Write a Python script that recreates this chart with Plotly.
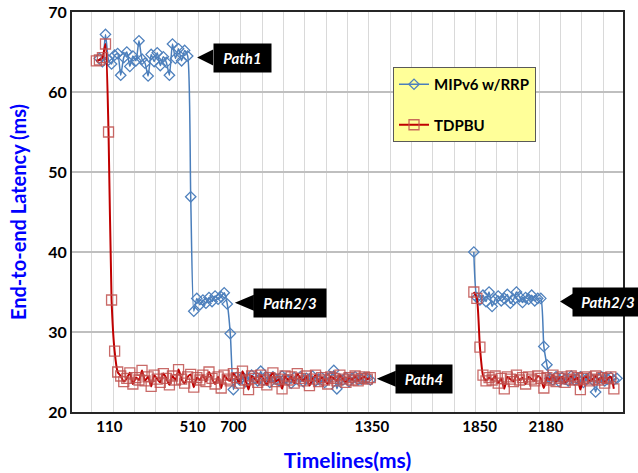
import plotly.graph_objects as go

# ---------------- data ----------------
# x positions are sample indices along the (category) time axis
x_tick_positions = [12.25, 39.6, 53.0, 98.5, 133.9, 155.7]
x_tick_labels = ["110", "510", "700", "1350", "1850", "2180"]

mipv6_seg1_start = 9
mipv6_seg1 = [
    64.2, 63.8, 67.2, 64.0, 63.5, 64.6, 64.8, 62.1, 64.3, 65.0,
    63.2, 64.5, 63.9, 66.4, 64.1, 63.6, 62.0, 64.7, 63.8, 64.9,
    63.3, 64.4, 63.7, 62.1, 66.0, 64.2, 65.4, 63.9, 65.2, 64.5,
    46.9,
    32.6, 34.2, 33.4, 34.0, 33.6, 34.3, 33.8, 34.5, 34.1, 34.4, 34.9, 33.5,
    29.8, 22.8,
    24.3, 24.0, 24.4, 23.8, 24.1, 24.6, 24.2, 23.9, 25.1, 24.0,
    24.3, 23.7, 24.4, 24.1, 23.9, 24.5, 24.2, 24.0, 23.6, 24.3,
    24.1, 24.4, 23.8, 24.2, 24.0, 24.5, 23.9, 24.1, 24.3, 23.7,
    24.2, 24.4, 25.2, 22.9, 24.1, 24.0, 24.3, 23.8, 24.2, 24.4,
    24.0, 24.1, 24.3, 24.2, 24.0,
]
mipv6_seg2_start = 132
mipv6_seg2 = [
    40.0,
    34.3, 34.0, 34.6, 33.8, 35.0, 33.2, 34.1, 34.5, 33.9, 34.2,
    34.7, 33.6, 34.0, 35.0, 34.4, 33.7, 34.3, 34.1, 34.6, 33.9,
    34.2, 34.2,
    28.2, 25.9,
    24.2, 24.0, 24.4, 23.8, 24.3, 24.1, 23.9, 24.5, 24.0, 24.2,
    24.4, 23.7, 24.1, 24.3, 24.0, 22.5, 24.2, 24.4, 23.9, 24.1,
    24.3, 24.0, 24.2,
]

tdpbu_seg1_start = 8
tdpbu_seg1 = [
    63.9, 64.0, 64.3, 66.0, 55.0, 34.0, 27.6, 25.0,
    24.5, 23.8, 24.2, 24.9, 23.5, 24.3, 24.0, 25.2, 23.9, 24.4,
    23.2, 24.6, 24.1, 23.7, 24.8, 24.2, 23.4, 24.5, 24.0, 25.3,
    24.1, 23.6, 24.4, 24.7, 23.1, 24.3, 24.0, 24.6, 23.8, 25.0,
    24.2, 23.5, 24.4, 23.0, 24.6, 24.1, 23.9, 24.8, 24.3, 23.6,
    25.1, 24.0, 22.8, 24.5, 24.2, 23.7, 24.6, 24.0, 23.4, 24.3,
    24.9, 23.8, 24.1, 22.9, 24.5, 24.0, 24.4, 23.6, 24.8, 24.2,
    23.9, 24.5, 23.3, 24.1, 24.6, 23.8, 24.3, 24.0, 23.5, 24.4,
    24.2, 23.9, 24.6, 24.1, 23.7, 24.3, 24.0, 24.5, 23.9, 24.2,
    24.4, 24.1, 24.3,
]
tdpbu_seg2_start = 132
tdpbu_seg2 = [
    35.0, 34.2, 28.1,
    24.6, 23.9, 24.3, 24.0, 24.5, 23.6, 24.2, 22.9, 24.4, 24.1,
    23.8, 24.6, 24.0, 24.3, 23.5, 24.4, 24.1, 23.9, 24.5, 24.2,
    23.0, 24.3, 24.0, 24.6, 23.8, 24.2, 24.4, 23.7, 24.1, 24.5,
    24.0, 24.3, 22.8, 24.2, 24.4, 23.9, 24.1, 24.5, 24.0, 24.3,
    23.6, 24.2, 24.4, 22.9,
]

series_names = ["MIPv6 w/RRP", "TDPBU"]


def build(s1, seg1, s2, seg2):
    xs = list(range(s1, s1 + len(seg1))) + [None] + list(range(s2, s2 + len(seg2)))
    ys = list(seg1) + [None] + list(seg2)
    return xs, ys


FONT = "Lato"
fig = go.Figure()

bx, by = build(mipv6_seg1_start, mipv6_seg1, mipv6_seg2_start, mipv6_seg2)
fig.add_trace(go.Scatter(
    x=bx, y=by, name=series_names[0], mode="lines+markers",
    line=dict(color="#4A7EBB", width=1.5, shape="spline", smoothing=0.6),
    marker=dict(symbol="diamond-open", size=8, color="#4F81BD",
                line=dict(width=1.3, color="#4F81BD")),
    legendgroup="a",
))

rx, ry = build(tdpbu_seg1_start, tdpbu_seg1, tdpbu_seg2_start, tdpbu_seg2)
fig.add_trace(go.Scatter(
    x=rx, y=ry, name=series_names[1], mode="lines+markers",
    line=dict(color="#C00000", width=2, shape="spline", smoothing=0.6),
    marker=dict(symbol="square-open", size=10, color="rgba(192,80,77,0.85)",
                line=dict(width=1.3, color="rgba(192,80,77,0.85)")),
    legendgroup="b",
))

# ---------------- callouts ----------------
callouts = [
    # text, tip x (index), tip y (value), gap px, box width px
    ("Path1", 41.1, 64.3, 16, 57),
    ("Path2/3", 53.5, 33.65, 19, 72),
    ("Path4", 100.1, 24.15, 19, 56),
    ("Path2/3", 160.3, 33.8, 13, 70),
]
shapes = []
annotations = []
for txt, tx, ty, gap, w in callouts:
    shapes.append(dict(
        type="path", xref="x", yref="y", xsizemode="pixel", ysizemode="pixel",
        xanchor=tx, yanchor=ty,
        path=f"M0,0 L{gap},8 L{gap},-8 Z",
        fillcolor="black", line=dict(width=0), layer="above",
    ))
    annotations.append(dict(
        x=tx, y=ty, xref="x", yref="y", text=f"<b><i>{txt}</i></b>",
        showarrow=False, xanchor="left", yanchor="middle", xshift=gap - 0.5,
        width=w, height=28, bgcolor="black", borderpad=0,
        font=dict(family=FONT, size=15, color="white"), align="center",
    ))

fig.update_layout(
    width=638, height=473,
    margin=dict(l=72, r=15, t=12, b=61, autoexpand=False),
    paper_bgcolor="white", plot_bgcolor="white",
    font=dict(family=FONT, color="black"),
    showlegend=True,
    legend=dict(
        x=0.5826, y=0.8625, xanchor="left", yanchor="top",
        bgcolor="#FFFF99", bordercolor="#595959", borderwidth=1,
        font=dict(family=FONT, size=15, color="black", weight="bold"),
        tracegroupgap=18, itemwidth=30,
    ),
    shapes=shapes,
    annotations=annotations,
    xaxis=dict(
        range=[0, 181], showgrid=False, zeroline=False, automargin=False,
        tickmode="array", tickvals=x_tick_positions, ticktext=x_tick_labels,
        ticks="", tickfont=dict(family=FONT, size=15, color="black", weight="bold"),
        showline=True, linecolor="#262626", linewidth=2, mirror=True,
        minor=dict(tickmode="linear", tick0=6.5, dtick=7, showgrid=True,
                   gridcolor="#D9D9D9", gridwidth=1, ticks=""),
        title=dict(text="Timelines(ms)", standoff=19,
                   font=dict(family=FONT, size=21, color="#0000FF", weight="bold")),
    ),
    yaxis=dict(
        range=[20, 70], dtick=10, tick0=20, showgrid=True, automargin=False,
        gridcolor="#BFBFBF", gridwidth=1.5, zeroline=False,
        ticks="", tickfont=dict(family=FONT, size=16, color="black", weight="bold"),
        showline=True, linecolor="#262626", linewidth=2, mirror=True,
        title=dict(text="End-to-end Latency (ms)", standoff=16,
                   font=dict(family=FONT, size=20, color="#0000FF", weight="bold")),
    ),
)

fig.write_html(
    "out.html",
    config={"displayModeBar": False},
    post_script="document.body.style.margin='0px';document.body.style.overflow='hidden';",
)
